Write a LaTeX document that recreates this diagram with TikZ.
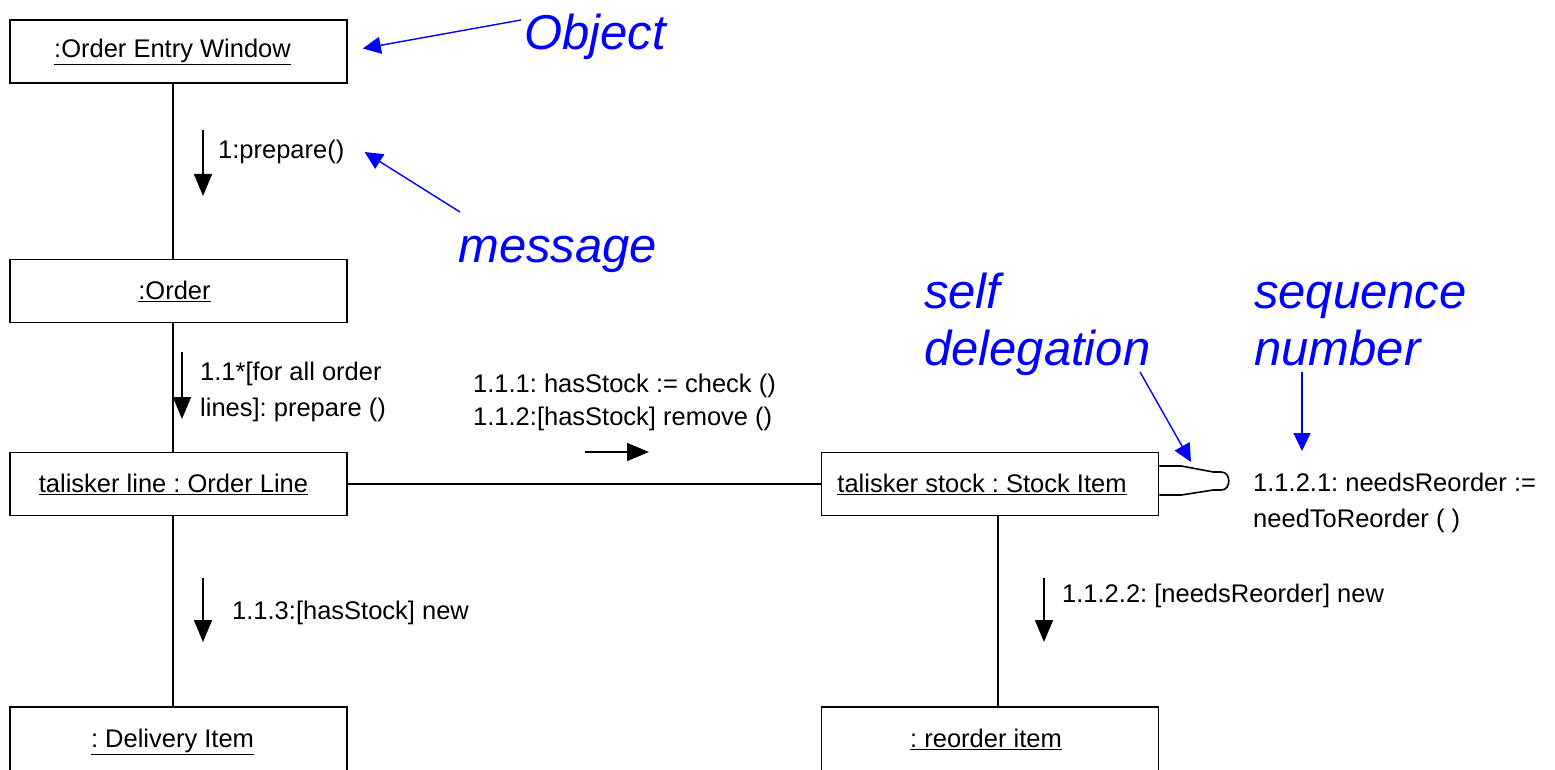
\documentclass[tikz,border=0pt]{standalone}
\usepackage{fontspec}
\setmainfont{Liberation Sans}
\usetikzlibrary{arrows.meta}
\definecolor{annoblue}{RGB}{0,0,255}
\frenchspacing

\begin{document}
\begin{tikzpicture}[x=1pt,y=-1pt,
  obj/.style={draw,line width=1.6pt,minimum width=337pt,minimum height=63pt,inner sep=0pt,
              font=\fontsize{25.5}{30}\selectfont},
  lbl/.style={font=\fontsize{25.5}{36}\selectfont,align=left,anchor=west,inner sep=0pt},
  note/.style={text=annoblue,font=\fontsize{49}{57}\selectfont\itshape,align=left,
               anchor=base west,inner sep=0pt},
  link/.style={line width=1.6pt},
  msg/.style={line width=1.6pt,-{Triangle[length=22pt,width=18pt]}},
  pointer/.style={draw=annoblue,line width=1.4pt,-{Triangle[length=18pt,width=17pt]}}]

\useasboundingbox (0,0) rectangle (1555,770);

% objects
\node[obj] (oew) at (178.5,51.5) {\hspace*{-12pt}\underline{:Order Entry Window}};
\node[obj] (ord) at (178.5,291)  {\hspace*{-8pt}\underline{:Order}};
\node[obj] (tl)  at (178.5,484)  {\hspace*{-10pt}\underline{talisker line : Order Line}};
\node[obj] (tsi) at (990,484)    {\hspace*{-16pt}\underline{talisker stock : Stock Item}};
\node[obj,minimum height=70pt,text depth=7pt] (del) at (178.5,742) {\hspace*{-12pt}\underline{: Delivery Item}};
\node[obj,minimum height=70pt,text depth=7pt] (roi) at (990,742)   {\hspace*{-8pt}\underline{: reorder item}};

% links
\draw[link] ([xshift=-5.5pt]oew.south) -- ([xshift=-5.5pt]ord.north);
\draw[link] ([xshift=-5.5pt]ord.south) -- ([xshift=-5.5pt]tl.north);
\draw[link] ([xshift=-5.5pt]tl.south)  -- ([xshift=-5.5pt]del.north);
\draw[link] (tl.east) -- (tsi.west);
\draw[link] ([xshift=8pt]tsi.south) -- ([xshift=8pt]roi.north);

% self link
\draw[link] ([shift={(0,-18)}]tsi.east) -- ++(22,0) -- ++(32,6) -- ++(8,0)
  .. controls +(10,0) and +(10,0) .. ++(0,18) -- ++(-8,0) -- ++(-32,5) -- ++(-22,0);

% messages
\node[lbl] (m1) at (218,152) {1:prepare()};
\coordinate (m1a) at (203,130);
\coordinate (m1b) at (203,196);
\draw[msg] (m1a) -- (m1b);

\node[lbl] (m11) at (200,392) {1.1*[for all order\\lines]: prepare ()};
\coordinate (m11a) at (182,352);
\coordinate (m11b) at (182,419);
\draw[msg] (m11a) -- (m11b);

\node[lbl,font=\fontsize{25.5}{33}\selectfont] (m111) at (473,402) {1.1.1: hasStock := check ()\\1.1.2:[hasStock] remove ()};
\coordinate (m111a) at (585,452);
\coordinate (m111b) at (649,452);
\draw[msg] (m111a) -- (m111b);

\node[lbl] (m1121) at (1253,503) {1.1.2.1: needsReorder :=\\needToReorder ( )};

\node[lbl] (m113) at (232,613) {1.1.3:[hasStock] new};
\coordinate (m113a) at (203,578);
\coordinate (m113b) at (203,642);
\draw[msg] (m113a) -- (m113b);

\node[lbl] (m1122) at (1062,596) {1.1.2.2: [needsReorder] new};
\coordinate (m1122a) at (1044,578);
\coordinate (m1122b) at (1044,642);
\draw[msg] (m1122a) -- (m1122b);

% annotations
\node[note] (nobj) at (524,50) {Object};
\node[note] (nmsg) at (458,262) {message};
\node[note] (nself) at (924,365) {self\\delegation};
\node[note] (nseq) at (1254,365) {sequence\\number};

\coordinate (pobj) at (521,20);
\coordinate (pmsg) at (460,212);
\coordinate (pself) at (1140,372);
\coordinate (pseq) at (1302,372);
\draw[pointer] (pobj) -- ([shift={(15,-3)}]oew.east);
\draw[pointer] (pmsg) -- ([xshift=20pt]m1.east);
\draw[pointer] (pself) -- (1191,462);
\draw[pointer] (pseq) -- (1302,451);
\end{tikzpicture}
\end{document}
